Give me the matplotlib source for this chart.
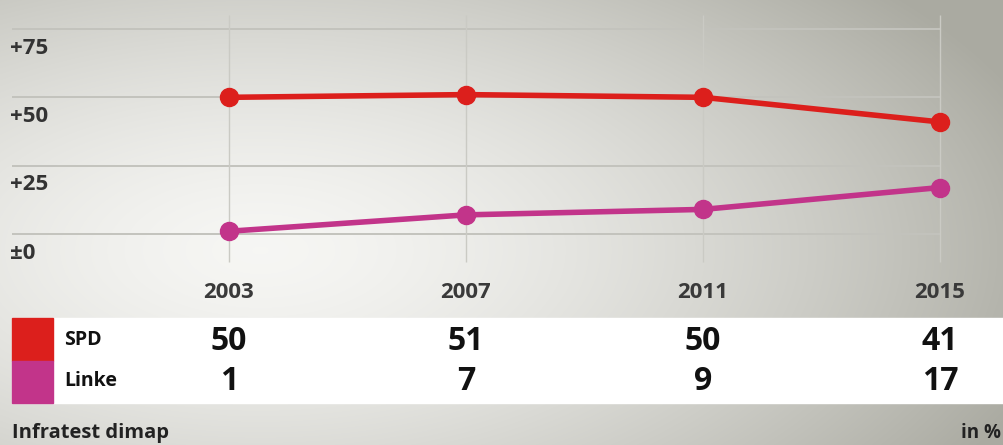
import numpy as np
import matplotlib
matplotlib.use("Agg")
import matplotlib.pyplot as plt
from matplotlib.transforms import blended_transform_factory

plt.rcParams['font.family'] = ['Open Sans', 'DejaVu Sans']

# data
years = [2003, 2007, 2011, 2015]
spd = [50, 51, 50, 41]
linke = [1, 7, 9, 17]
parties = ["SPD", "Linke"]
colors = ["#dc1f1c", "#c2348a"]
yticks = [0, 25, 50, 75]
ytick_labels = ["±0", "+25", "+50", "+75"]

W, H = 1004, 445
fig = plt.figure(figsize=(W / 100, H / 100), dpi=100)

# background axes in pixel coordinates
bg = fig.add_axes([0, 0, 1, 1])
bg.set_xlim(0, W)
bg.set_ylim(H, 0)
bg.axis("off")
xx, yy = np.meshgrid(np.arange(W), np.arange(H))
d = np.sqrt(((xx - 260) / 820.0) ** 2 + ((yy - 250) / 400.0) ** 2)
d = np.clip(d, 0, 1)
light = np.array([0.965, 0.965, 0.955])
dark = np.array([0.67, 0.67, 0.635])
img = light[None, None, :] + (dark - light)[None, None, :] * (d ** 1.5)[:, :, None]
bg.imshow(img, extent=[0, W, H, 0], aspect="auto", zorder=0)

# white table band + colour squares
bg.add_patch(plt.Rectangle((12, 318), W - 12, 85, color="white", zorder=1))
bg.add_patch(plt.Rectangle((12, 318), 41, 43, color=colors[0], zorder=2))
bg.add_patch(plt.Rectangle((12, 361), 41, 42, color=colors[1], zorder=2))
bg.text(64, 340, parties[0], fontsize=14, fontweight="bold", color="#111", va="center", zorder=3)
bg.text(64, 381, parties[1], fontsize=14, fontweight="bold", color="#111", va="center", zorder=3)
bg.text(12, 433, "Infratest dimap", fontsize=14.5, fontweight="bold", color="#222", va="center")
bg.text(1001, 433, "in %", fontsize=13.5, fontweight="bold", color="#222", va="center", ha="right")

# data axes, pixel mapping: 2003->229, 2015->940, 0->234, 75->29
px_year = (940 - 229) / 12.0
px_val = (234 - 29) / 75.0
x0 = 2003 - 229 / px_year
x1 = 2015 + (W - 940) / px_year
y1 = 234 / px_val
y0 = -(H - 234) / px_val
ax = fig.add_axes([0, 0, 1, 1])
ax.set_xlim(x0, x1)
ax.set_ylim(y0, y1)
ax.patch.set_alpha(0)
ax.axis("off")

# grid
ax.hlines(yticks, 2003 - 217 / px_year, 2015, color="#c3c3bd", lw=1.4, zorder=1)
ax.vlines(years, (234 - 262) / px_val, (234 - 15) / px_val, color="#cacac4", lw=1.0, zorder=1)
for v, lab in zip(yticks, ytick_labels):
    ax.text(2003 - 219 / px_year, v - 3.2, lab, fontsize=16, fontweight="bold",
            color="#333", va="top", ha="left")

ax.plot(years, spd, color=colors[0], lw=4, marker="o", ms=13, zorder=3)
ax.plot(years, linke, color=colors[1], lw=4, marker="o", ms=13, zorder=3)

# year labels and table values
tr = blended_transform_factory(ax.transData, bg.transData)
for i, yr in enumerate(years):
    ax.text(yr, 292, str(yr), transform=tr, fontsize=16, fontweight="bold",
            color="#3a3a3a", ha="center", va="center")
    ax.text(yr, 341, str(spd[i]), transform=tr, fontsize=23, fontweight="bold",
            color="#111", ha="center", va="center", zorder=4)
    ax.text(yr, 382, str(linke[i]), transform=tr, fontsize=23, fontweight="bold",
            color="#111", ha="center", va="center", zorder=4)

fig.savefig("out.png", dpi=100)
